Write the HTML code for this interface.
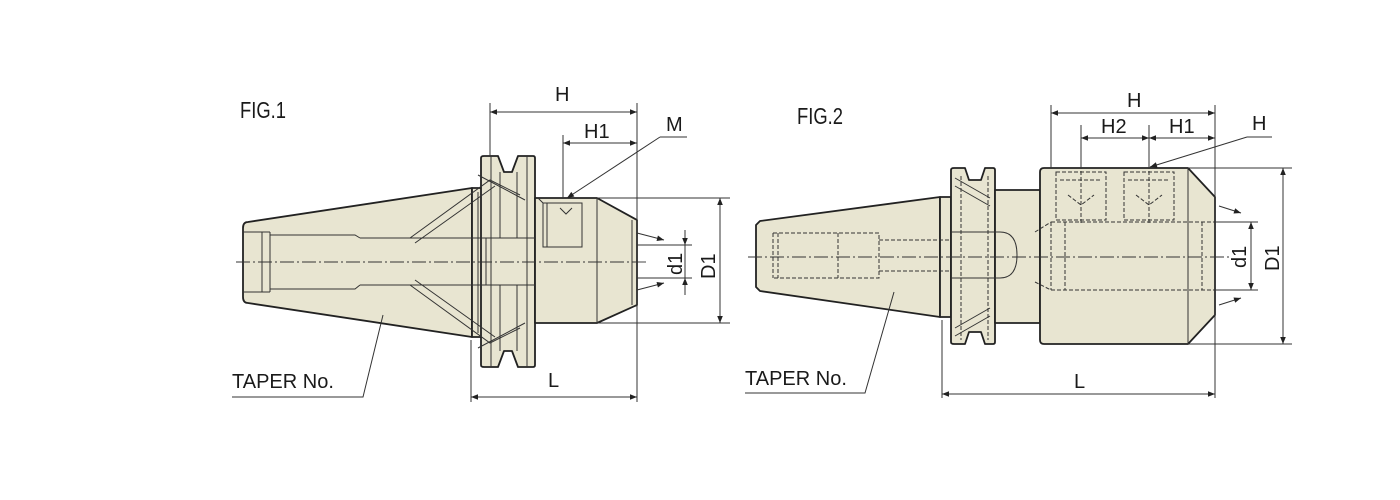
<!DOCTYPE html>
<html><head><meta charset="utf-8"><style>
html,body{margin:0;padding:0;background:#fff;}
svg{display:block;}
text{font-family:"Liberation Sans",sans-serif;fill:#1a1a1a;}
</style></head><body>
<svg width="1400" height="500" viewBox="0 0 1400 500" xmlns="http://www.w3.org/2000/svg">
<defs>
<marker id="a" viewBox="0 0 10 10" refX="10" refY="5" markerWidth="9" markerHeight="7" orient="auto-start-reverse" markerUnits="userSpaceOnUse"><path d="M0,1 L10,5 L0,9 z" fill="#222"/></marker>
</defs>
<g stroke="#222" stroke-width="1.8" fill="#e8e5d1" stroke-linejoin="round">
<path d="M248,222 L472,188 L472,337 L248,303 Q243,303 243,297 L243,228 Q243,222 248,222 Z"/>
<rect x="472" y="188" width="10" height="149"/>
<path d="M484,156 L498,156 L504,172 L512,172 L518,156 L533,156 Q535,156 535,158 L535,365 Q535,367 533,367 L518,367 L512,351 L504,351 L498,367 L484,367 Q481,367 481,365 L481,158 Q481,156 484,156 Z"/>
<path d="M535,198 L597,198 L637,220 L637,305 L597,323 L535,323 Z"/>
<path d="M760,221 L940,197 L940,317 L760,291 L756,287 L756,225 Z"/>
<rect x="940" y="197" width="11" height="120"/>
<path d="M954,168 L965,168 L969,180 L981,180 L985,168 L993,168 Q995,168 995,170 L995,342 Q995,344 993,344 L985,344 L981,332 L969,332 L965,344 L954,344 Q951,344 951,342 L951,170 Q951,168 954,168 Z"/>
<rect x="995" y="190" width="45" height="133"/>
<path d="M1044,168 L1188,168 L1215,197 L1215,315 L1188,344 L1044,344 Q1040,344 1040,340 L1040,172 Q1040,168 1044,168 Z"/>
</g>
<g stroke="#333" stroke-width="1" fill="none">
<path d="M270,232 L270,292 M243,232 L270,232 M243,292 L270,292 M262,232 L262,292 M270,235 L355,235 L360,238 M270,289 L355,289 L360,285 M360,238 L482,238 M360,285 L482,285"/>
<path d="M482,238 L535,238 M482,285 L535,285 M486,238 L486,285 M478,192 L478,333"/>
<path d="M500,172 L500,238 M517,172 L517,238 M500,285 L500,351 M517,285 L517,351 M491,156 L491,367 M527,156 L527,367"/>
<path d="M410,238 L490,180 L520,195 M415,243 L495,186 M410,285 L490,343 L520,328 M415,280 L495,337 M478,175 L525,200 M478,348 L525,323"/>
<path d="M543,203 L582,203 L582,247 L543,247 Z M547,203 L547,247 M597,198 L597,323 M543,203 L538,198"/>
<path d="M560,208 L566,214 L572,208" />
<path d="M632,220 L632,305"/>
<g stroke-dasharray="4,2">
<path d="M773,233 L879,233 L879,278 L773,278 M773,233 L773,278 M778,233 L778,278 M838,233 L838,278 M879,240 L951,240 M879,271 L951,271"/>
<path d="M1051,222 L1215,222 M1051,290 L1215,290 M1051,222 L1051,290 M1065,222 L1065,290 M1035,232 L1051,222 M1035,282 L1051,290 M1202,222 L1202,290"/>
<path d="M1056,172 L1106,172 L1106,220 L1056,220 Z M1124,172 L1174,172 L1174,220 L1124,220 Z M1060,180 L1102,180 M1128,180 L1170,180 M1068,195 L1081,205 L1094,195 M1136,195 L1149,205 L1162,195"/>
<path d="M1081,165 L1081,225 M1149,165 L1149,225 M961,176 L961,340 M988,176 L988,340"/>
</g>
<path d="M951,232 L1000,232 Q1017,232 1017,255 Q1017,278 1000,278 L951,278"/>
<path d="M955,178 L990,198 M955,186 L990,206 M955,336 L990,316 M955,328 L990,308 M1188,168 L1188,344"/>
</g>
<g stroke="#333" stroke-width="0.9" stroke-dasharray="14,3,2,3" fill="none">
<line x1="236" y1="262" x2="648" y2="262"/>
<line x1="748" y1="257" x2="1230" y2="257"/>
</g>
<g stroke="#333" stroke-width="1" fill="none">
<path d="M490,103 L490,156 M637,103 L637,402 M563,135 L563,198 M471,340 L471,402"/>
<path d="M597,198 L730,198 M597,323 L730,323 M637,245 L692,245 M637,278 L692,278"/>
<line x1="490" y1="112" x2="637" y2="112" marker-start="url(#a)" marker-end="url(#a)"/>
<line x1="563" y1="143" x2="637" y2="143" marker-start="url(#a)" marker-end="url(#a)"/>
<line x1="471" y1="397" x2="637" y2="397" marker-start="url(#a)" marker-end="url(#a)"/>
<line x1="720" y1="198" x2="720" y2="323" marker-start="url(#a)" marker-end="url(#a)"/>
<line x1="685" y1="230" x2="685" y2="245" marker-end="url(#a)"/>
<line x1="685" y1="245" x2="685" y2="278"/>
<line x1="685" y1="295" x2="685" y2="278" marker-end="url(#a)"/>
<line x1="637" y1="233" x2="664" y2="240" marker-end="url(#a)"/>
<line x1="637" y1="290" x2="664" y2="283" marker-end="url(#a)"/>
<path d="M687,137 L660,137"/><line x1="660" y1="137" x2="567" y2="198" marker-end="url(#a)"/>
<path d="M232,397 L363,397 L383,315"/>
<path d="M1051,105 L1051,168 M1215,105 L1215,398 M1081,125 L1081,168 M1149,125 L1149,168 M942,320 L942,398"/>
<path d="M1188,168 L1292,168 M1188,344 L1292,344 M1215,222 L1258,222 M1215,290 L1258,290"/>
<line x1="1051" y1="113" x2="1215" y2="113" marker-start="url(#a)" marker-end="url(#a)"/>
<line x1="1081" y1="138" x2="1149" y2="138" marker-start="url(#a)" marker-end="url(#a)"/>
<line x1="1149" y1="138" x2="1215" y2="138" marker-start="url(#a)" marker-end="url(#a)"/>
<line x1="942" y1="394" x2="1215" y2="394" marker-start="url(#a)" marker-end="url(#a)"/>
<line x1="1283" y1="168" x2="1283" y2="344" marker-start="url(#a)" marker-end="url(#a)"/>
<line x1="1251" y1="222" x2="1251" y2="290" marker-start="url(#a)" marker-end="url(#a)"/>
<line x1="1219" y1="206" x2="1241" y2="213" marker-end="url(#a)"/>
<line x1="1219" y1="305" x2="1241" y2="298" marker-end="url(#a)"/>
<path d="M1272,137 L1247,137"/><line x1="1247" y1="137" x2="1150" y2="167" marker-end="url(#a)"/>
<path d="M745,393 L865,393 L894,292"/>
</g>
<g font-size="20">
<text x="240" y="118" font-size="23" transform="translate(240 0) scale(0.8 1) translate(-240 0)">FIG.1</text>
<text x="797" y="124" font-size="23" transform="translate(797 0) scale(0.8 1) translate(-797 0)">FIG.2</text>
<text x="555" y="101">H</text>
<text x="584" y="138">H1</text>
<text x="666" y="131">M</text>
<text x="548" y="387">L</text>
<text x="232" y="388">TAPER No.</text>
<text x="1127" y="107">H</text>
<text x="1101" y="133">H2</text>
<text x="1169" y="133">H1</text>
<text x="1252" y="130">H</text>
<text x="1074" y="388">L</text>
<text x="745" y="385">TAPER No.</text>
<text transform="translate(682 275) rotate(-90)">d1</text>
<text transform="translate(715 279) rotate(-90)">D1</text>
<text transform="translate(1246 268) rotate(-90)">d1</text>
<text transform="translate(1279 271) rotate(-90)">D1</text>
</g>
</svg>
</body></html>
